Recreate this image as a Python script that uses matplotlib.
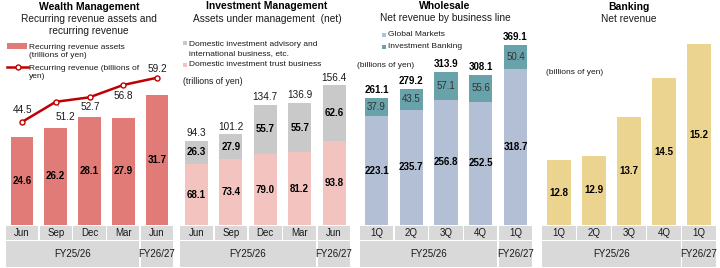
import matplotlib
matplotlib.use("Agg")
import matplotlib.pyplot as plt
from matplotlib.patches import Rectangle
from matplotlib.lines import Line2D

# ---- data ----
# Wealth Management
wm_months = ["Jun", "Sep", "Dec", "Mar", "Jun"]
wm_assets = [24.6, 26.2, 28.1, 27.9, 31.7]        # trillions of yen
wm_revenue = [44.5, 51.2, 52.7, 56.8, 59.2]       # billions of yen

# Investment Management
im_months = ["Jun", "Sep", "Dec", "Mar", "Jun"]
im_trust = [68.1, 73.4, 79.0, 81.2, 93.8]
im_advisory = [26.3, 27.9, 55.7, 55.7, 62.6]
im_total = [94.3, 101.2, 134.7, 136.9, 156.4]

# Wholesale
ws_quarters = ["1Q", "2Q", "3Q", "4Q", "1Q"]
ws_global = [223.1, 235.7, 256.8, 252.5, 318.7]
ws_ib = [37.9, 43.5, 57.1, 55.6, 50.4]
ws_total = [261.1, 279.2, 313.9, 308.1, 369.1]

# Banking
bk_quarters = ["1Q", "2Q", "3Q", "4Q", "1Q"]
bk_revenue = [12.8, 12.9, 13.7, 14.5, 15.2]

fiscal_years = ["FY25/26", "FY26/27"]

# ---- style ----
plt.rcParams['font.family'] = ['Liberation Sans', 'DejaVu Sans']
W, H = 720, 268
BAR_W = 0.67
C_WM = '#e07b78'
C_LINE = '#c00000'
C_ADV = '#c9c9c9'
C_TRUST = '#f2c3bf'
C_GM = '#b2bfd4'
C_IB = '#68a2aa'
C_BK = '#ebd48f'
C_BAND = '#d9d9d9'
TXT = '#1a1a1a'

fig = plt.figure(figsize=(W / 100, H / 100), dpi=100)
fig.patch.set_facecolor('white')


def fx(x):
    return x / W


def fy(y):
    return 1 - y / H


def panel(left, right, ylim, labels):
    ax = fig.add_axes([fx(left), fy(225), (right - left) / W, (225 - 30) / H])
    ax.set_xlim(-0.5, 4.5)
    ax.set_ylim(*ylim)
    ax.axis('off')
    band = fig.add_axes([fx(left), fy(267), (right - left) / W, (267 - 226) / H])
    band.set_xlim(-0.5, 4.5)
    band.set_ylim(267, 226)
    band.axis('off')
    g = 0.025
    for i, lab in enumerate(labels):
        band.add_patch(Rectangle((i - 0.5 + g, 226), 1 - 2 * g, 14, color=C_BAND, lw=0))
        band.text(i, 233.5, lab, ha='center', va='center', fontsize=7, color=TXT)
    band.add_patch(Rectangle((-0.5 + g, 241), 4 - 2 * g, 26, color=C_BAND, lw=0))
    band.add_patch(Rectangle((3.5 + g, 241), 1 - 2 * g, 26, color=C_BAND, lw=0))
    band.text(1.5, 254, fiscal_years[0], ha='center', va='center', fontsize=7, color=TXT)
    band.text(4, 254, fiscal_years[1], ha='center', va='center', fontsize=7, color=TXT)
    return ax


def title(x, head, sub, y_head, y_sub):
    fig.text(fx(x), fy(y_head), head, ha='center', va='center', fontsize=7.5,
             fontweight='bold', color='black')
    fig.text(fx(x), fy(y_sub), sub, ha='center', va='center', fontsize=7.3, color=TXT)


def square(x, y, color, w=4, h=4):
    fig.add_artist(Rectangle((fx(x), fy(y + h / 2)), w / W, h / H, color=color, lw=0,
                             transform=fig.transFigure))


xs = range(5)

# ---- Wealth Management ----
wm_base = 9.8
ax1 = panel(5.1, 173.9, (wm_base, wm_base + 195 / 5.92), wm_months)
ax1.bar(xs, [v - wm_base for v in wm_assets], BAR_W, bottom=wm_base, color=C_WM)
for i, v in enumerate(wm_assets):
    ax1.text(i, (v + wm_base) / 2, f"{v:.1f}", ha='center', va='center',
             fontsize=7, fontweight='bold', color='black')
ax1b = ax1.twinx()
ax1b.set_ylim(10.28, 75.06)
ax1b.axis('off')
ax1b.plot(xs, wm_revenue, color=C_LINE, lw=1.8, marker='o', ms=3.6,
          mfc='white', mec=C_LINE, mew=1.0, zorder=5)
offsets = [(0.5, 8.6), (6.8, -10.8), (0.7, -7.2), (0, -7.9), (0, 6.5)]
leaders = [False, True, False, True, False]
for i, v in enumerate(wm_revenue):
    kw = {}
    if leaders[i]:
        kw['arrowprops'] = dict(arrowstyle='-', color='#a6a6a6', lw=0.6,
                                shrinkA=2, shrinkB=2)
    ax1b.annotate(f"{v:.1f}", (i, v), xytext=offsets[i], textcoords='offset points',
                  ha='center', va='center', fontsize=7.2, color=TXT, **kw)
title(89, "Wealth Management", "Recurring revenue assets and\nrecurring revenue", 7, 25)
square(7, 46, C_WM, w=20, h=6)
fig.text(fx(29), fy(51.5), "Recurring revenue assets\n(trillions of yen)", ha='left',
         va='center', fontsize=6, color=TXT, linespacing=1.35)
fig.add_artist(Line2D([fx(7), fx(28)], [fy(67), fy(67)], color=C_LINE, lw=1.8,
                      transform=fig.transFigure))
fig.add_artist(Line2D([fx(17.5)], [fy(67)], marker='o', ms=3.6, mfc='white',
                      mec=C_LINE, mew=1.0, transform=fig.transFigure))
fig.text(fx(29), fy(72.5), "Recurring revenue (billions of\nyen)", ha='left',
         va='center', fontsize=6, color=TXT, linespacing=1.35)

# ---- Investment Management ----
ax2 = panel(179.3, 351.3, (0, 195 / 0.894), im_months)
ax2.bar(xs, im_trust, BAR_W, color=C_TRUST)
ax2.bar(xs, im_advisory, BAR_W, bottom=im_trust, color=C_ADV)
for i in xs:
    ax2.text(i, im_trust[i] / 2, f"{im_trust[i]:.1f}", ha='center', va='center',
             fontsize=7, fontweight='bold', color='black')
    ax2.text(i, im_trust[i] + im_advisory[i] / 2, f"{im_advisory[i]:.1f}", ha='center',
             va='center', fontsize=7, fontweight='bold', color='black')
    ax2.annotate(f"{im_total[i]:.1f}", (i, im_trust[i] + im_advisory[i]), xytext=(0, 5.5),
                 textcoords='offset points', ha='center', va='center', fontsize=7.2,
                 color=TXT)
title(267, "Investment Management", "Assets under management  (net)", 6, 19)
square(183, 43, C_ADV)
fig.text(fx(189), fy(49), "Domestic investment advisory and\ninternational business, etc.",
         ha='left', va='center', fontsize=6, color=TXT, linespacing=1.35)
square(183, 65, C_TRUST)
fig.text(fx(189), fy(65), "Domestic investment trust business", ha='left', va='center',
         fontsize=6, color=TXT)
fig.text(fx(183), fy(82), "(trillions of yen)", ha='left', va='center', fontsize=6.3,
         color=TXT)

# ---- Wholesale ----
ax3 = panel(359.1, 532.9, (0, 195 / 0.488), ws_quarters)
ax3.bar(xs, ws_global, BAR_W, color=C_GM)
ax3.bar(xs, ws_ib, BAR_W, bottom=ws_global, color=C_IB)
for i in xs:
    ax3.text(i, ws_global[i] / 2, f"{ws_global[i]:.1f}", ha='center', va='center',
             fontsize=7, fontweight='bold', color='black')
    ax3.text(i, ws_global[i] + ws_ib[i] / 2, f"{ws_ib[i]:.1f}", ha='center', va='center',
             fontsize=7, color='#333333')
    ax3.annotate(f"{ws_total[i]:.1f}", (i, ws_global[i] + ws_ib[i]), xytext=(0, 5.5),
                 textcoords='offset points', ha='center', va='center', fontsize=7,
                 fontweight='bold', color='black')
title(445, "Wholesale", "Net revenue by business line", 6, 18)
square(382, 35, C_GM)
fig.text(fx(388), fy(35), "Global Markets", ha='left', va='center', fontsize=6, color=TXT)
square(382, 47, C_IB)
fig.text(fx(388), fy(47), "Investment Banking", ha='left', va='center', fontsize=6,
         color=TXT)
fig.text(fx(357), fy(66), "(billions of yen)", ha='left', va='center', fontsize=6,
         color=TXT)

# ---- Banking ----
bk_base = 11.47
ax4 = panel(541.5, 716.5, (bk_base, bk_base + 195 / 48.5), bk_quarters)
ax4.bar(xs, [v - bk_base for v in bk_revenue], BAR_W, bottom=bk_base, color=C_BK)
for i, v in enumerate(bk_revenue):
    ax4.text(i, (v + bk_base) / 2, f"{v:.1f}", ha='center', va='center', fontsize=7,
             fontweight='bold', color='black')
title(629, "Banking", "Net revenue", 7, 19)
fig.text(fx(546), fy(72), "(billions of yen)", ha='left', va='center', fontsize=6,
         color=TXT)

fig.savefig("out.png", dpi=100, facecolor='white')
